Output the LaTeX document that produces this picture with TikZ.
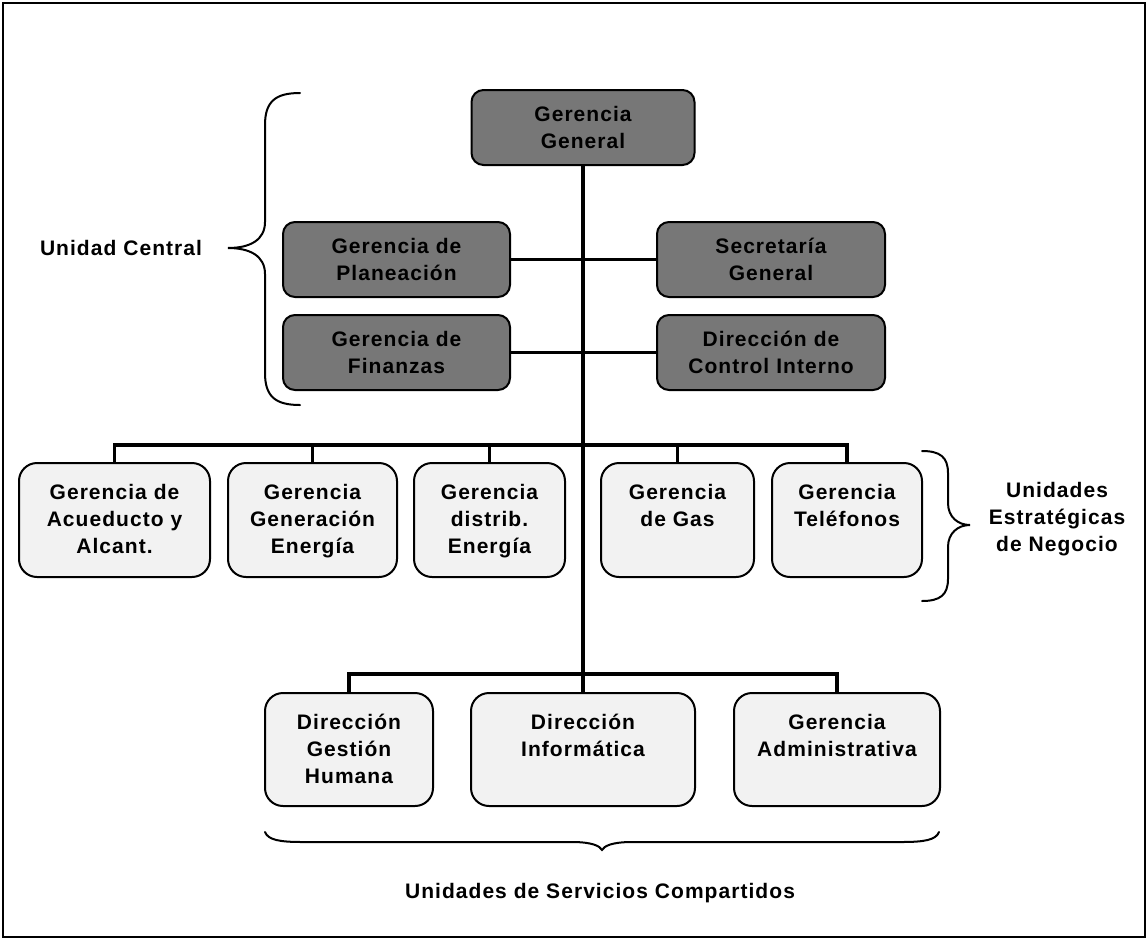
\documentclass[tikz,border=0pt]{standalone}
\usepackage{fontspec}
\setmainfont{Liberation Sans}[LetterSpace=5]
\definecolor{unitdark}{RGB}{119,119,119}
\definecolor{unitlight}{RGB}{242,242,242}
% top-aligned text block inside a box of given width and height
\newcommand\topbox[3]{\parbox[c][#2][t]{#1}{\centering\vspace*{18pt}\strut #3}}
\begin{document}
\begin{tikzpicture}[x=1pt,y=-1pt,
  txt/.style={font=\fontsize{21}{27}\selectfont\bfseries, align=center},
  darkbox/.style={txt, draw=black, line width=2pt, fill=unitdark, rounded corners=12pt,
    inner sep=0pt, minimum height=75pt, text width=#1, minimum width=#1},
  lightbox/.style={txt, draw=black, line width=2pt, fill=unitlight, rounded corners=18pt,
    inner sep=0pt},
  link/.style={line width=3.8pt, line cap=rect},
  curly/.style={line width=2pt, line cap=round}]
\useasboundingbox (0,0) rectangle (1148,940);
\draw[line width=2pt] (3,3) rectangle (1145,937);

% central unit
\node[darkbox=223pt] (gg) at (583,127.5) {Gerencia\\General};
\node[darkbox=227pt] (plan) at (396.5,259.5) {Gerencia de\\Planeación};
\node[darkbox=227pt] (fin) at (396.5,352.5) {Gerencia de\\Finanzas};
\node[darkbox=228pt] (sec) at (771,259.5) {Secretaría\\General};
\node[darkbox=228pt] (ctrl) at (771,352.5) {Dirección de\\Control Interno};

% strategic business units
\node[lightbox] (acu) at (114.5,520) {\topbox{191pt}{114pt}{Gerencia de\\Acueducto y\\Alcant.}};
\node[lightbox] (gen) at (312.5,520) {\topbox{169pt}{114pt}{Gerencia\\Generación\\Energía}};
\node[lightbox] (dis) at (489.5,520) {\topbox{151pt}{114pt}{Gerencia\\distrib.\\Energía}};
\node[lightbox] (gas) at (677.5,520) {\topbox{153pt}{114pt}{Gerencia\\de Gas}};
\node[lightbox] (tel) at (847,520) {\topbox{150pt}{114pt}{Gerencia\\Teléfonos}};

% shared services
\node[lightbox] (hum) at (349,749.5) {\topbox{168pt}{113pt}{Dirección\\Gestión\\Humana}};
\node[lightbox] (inf) at (583,749.5) {\topbox{224pt}{113pt}{Dirección\\Informática}};
\node[lightbox] (adm) at (837,749.5) {\topbox{206pt}{113pt}{Gerencia\\Administrativa}};

% bus junctions on the trunk
\coordinate (busA) at (583,445);
\coordinate (busB) at (583,674);

% connectors
\draw[link] (gg.south) -- (busB);
\draw[link] (plan.east) -- (plan.east -| busA);
\draw[link] (fin.east) -- (fin.east -| busA);
\draw[link] (sec.west) -- (sec.west -| busA);
\draw[link] (ctrl.west) -- (ctrl.west -| busA);
\foreach \n in {acu,gen,dis,gas,tel}
  \draw[link] (\n.north) |- (busA);
\foreach \n in {hum,inf,adm}
  \draw[link] (\n.north) |- (busB);

% group labels
\node[txt] (lblcentral) at (121,248) {Unidad Central};
\node[txt] (lblune) at (1057,519) {Unidades\\Estratégicas\\de Negocio};
\node[txt] (lblusc) at (600,893) {Unidades de Servicios Compartidos};

% braces
\coordinate (bcL) at (228,248);
\coordinate (bcR) at (970,525);
\coordinate (bcB) at (602,850);
\draw[curly] (300,93) .. controls (276,93) and (265,101) .. (265,125) -- (265,222)
  .. controls (265,240) and (250,248) .. (bcL)
  .. controls (250,248) and (265,256) .. (265,274) -- (265,373)
  .. controls (265,397) and (276,405) .. (300,405);
\draw[curly] (922,451) .. controls (940,451) and (948,457) .. (948,473) -- (948,503)
  .. controls (948,517) and (958,525) .. (bcR)
  .. controls (958,525) and (948,533) .. (948,547) -- (948,579)
  .. controls (948,595) and (940,601) .. (922,601);
\draw[curly] (265,832) .. controls (268,840) and (280,842) .. (302,842) -- (572,842)
  .. controls (592,842) and (600,846) .. (bcB)
  .. controls (604,846) and (612,842) .. (632,842) -- (902,842)
  .. controls (924,842) and (936,840) .. (939,832);
\end{tikzpicture}
\end{document}
